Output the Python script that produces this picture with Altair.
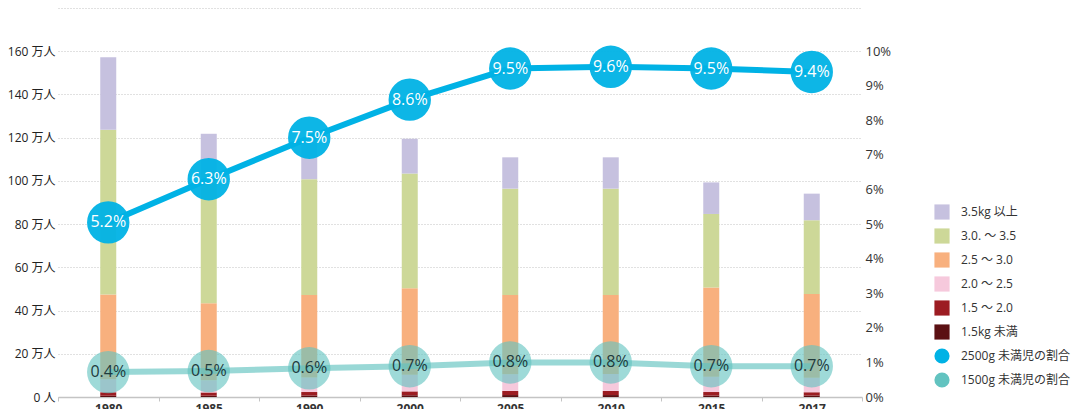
import altair as alt
import pandas as pd

# ---- data ----
years = ["1980", "1985", "1990", "2000", "2005", "2010", "2015", "2017"]

# stacked birth-weight groups, bottom -> top (万人)
cat_names = ["1.5kg 未満", "1.5 ～ 2.0", "2.0 ～ 2.5", "2.5 ～ 3.0", "3.0. ～ 3.5", "3.5kg 以上"]
under_15 = [0.6, 0.6, 0.7, 0.8, 0.9, 0.9, 0.7, 0.7]
w15_20 = [1.6, 1.5, 1.6, 1.8, 1.9, 1.9, 1.6, 1.5]
w20_25 = [6.0, 5.6, 6.7, 7.7, 7.7, 7.9, 7.1, 6.7]
w25_30 = [39.2, 35.7, 38.2, 40.0, 36.7, 36.5, 41.3, 38.8]
w30_35 = [76.3, 60.6, 53.6, 53.1, 49.2, 49.2, 34.0, 34.1]
over_35 = [33.5, 17.8, 19.2, 16.1, 14.5, 14.5, 14.6, 12.3]
cat_values = [under_15, w15_20, w20_25, w25_30, w30_35, over_35]

# rate lines (right axis, %)
line_names = ["2500g 未満児の割合", "1500g 未満児の割合"]
rate_2500 = [5.05, 6.3, 7.5, 8.6, 9.5, 9.55, 9.5, 9.4]
rate_2500_labels = ["5.2%", "6.3%", "7.5%", "8.6%", "9.5%", "9.6%", "9.5%", "9.4%"]
rate_1500 = [0.72, 0.75, 0.83, 0.89, 1.0, 1.0, 0.89, 0.89]
rate_1500_labels = ["0.4%", "0.5%", "0.6%", "0.7%", "0.8%", "0.8%", "0.7%", "0.7%"]

legend_order = cat_names[::-1] + line_names
legend_colors = ["#c6c1df", "#cdd898", "#f8b07e", "#f6c9dc", "#9c1c22", "#5b1013",
                 "#00b2e5", "#62c3c0"]
legend_shapes = ["square"] * 6 + ["circle"] * 2

# ---- tables ----
bar_rows = []
for i, (name, vals) in enumerate(zip(cat_names, cat_values)):
    for y, v in zip(years, vals):
        bar_rows.append({"year": y, "series": name, "value": v, "stackorder": i})
bar_df = pd.DataFrame(bar_rows)

line_rows = []
for name, vals, labs in [(line_names[0], rate_2500, rate_2500_labels),
                         (line_names[1], rate_1500, rate_1500_labels)]:
    for y, v, l in zip(years, vals, labs):
        line_rows.append({"year": y, "series": name, "rate": v, "label": l})
line_df = pd.DataFrame(line_rows)

FONT = "Open Sans, Noto Sans CJK JP"

leg = alt.Legend(
    title=None, orient="none", legendX=876, legendY=196,
    labelFont=FONT, labelFontSize=12, labelColor="#333333",
    symbolSize=230, symbolOpacity=1, symbolStrokeWidth=0,
    rowPadding=8, labelOffset=11,
)

color_enc = alt.Color("series:N", scale=alt.Scale(domain=legend_order, range=legend_colors), legend=leg)
shape_enc = alt.Shape("series:N", scale=alt.Scale(domain=legend_order, range=legend_shapes), legend=leg)

x_axis = alt.Axis(
    title=None, labelAngle=0, tickBand="extent", tickSize=4, tickColor="#c4c4c4",
    domainColor="#c4c4c4", domainWidth=1.5, labelFont=FONT, labelFontSize=12,
    labelFontWeight="bold", labelColor="#333333", labelPadding=2,
    grid=False,
)
x_enc = alt.X("year:N", sort=years, scale=alt.Scale(paddingInner=0, paddingOuter=0), axis=x_axis)

left_axis = alt.Axis(
    orient="left", title=None, values=list(range(0, 181, 20)),
    labelExpr="datum.value == 0 ? '0 人' : (datum.value == 180 ? '' : datum.value + ' 万人')",
    grid=True, gridDash=[1, 2], gridColor="#c2c2c2", gridWidth=1,
    domain=False, ticks=False, labelPadding=3,
    labelFont=FONT, labelFontSize=12, labelColor="#222222",
)

right_axis = alt.Axis(
    orient="right", title=None, values=list(range(0, 11)),
    labelExpr="datum.value + '%'", grid=False, domain=False, ticks=False,
    labelPadding=3, labelFont=FONT, labelFontSize=13, labelColor="#333333",
)

bars = alt.Chart(bar_df).mark_bar(size=16).encode(
    x=x_enc,
    y=alt.Y("value:Q", stack="zero", scale=alt.Scale(domain=[0, 180], nice=False), axis=left_axis),
    color=color_enc,
    order=alt.Order("stackorder:Q"),
)

y_rate = alt.Y("rate:Q", scale=alt.Scale(domain=[0, 11.25], nice=False), axis=right_axis)

base = alt.Chart(line_df)
line25 = base.transform_filter(alt.datum.series == line_names[0]).mark_line(
    color="#00b2e5", strokeWidth=6).encode(x=x_enc, y=y_rate)
line15 = base.transform_filter(alt.datum.series == line_names[1]).mark_line(
    color="#62c3c0", strokeWidth=6, opacity=0.65).encode(x=x_enc, y=y_rate)

points = base.mark_point(filled=True, size=1800, strokeWidth=0).encode(
    x=x_enc, y=y_rate, color=color_enc, shape=shape_enc,
    opacity=alt.condition(alt.datum.series == line_names[0], alt.value(0.95), alt.value(0.62)),
)

texts = base.mark_text(fontSize=16, font=FONT, baseline="middle", align="center").encode(
    x=x_enc, y=y_rate, text="label:N",
    color=alt.condition(alt.datum.series == line_names[0], alt.value("#ffffff"), alt.value("#1f3a3c")),
)

rates = alt.layer(line15, line25, points, texts)

chart = alt.layer(bars, rates).resolve_scale(y="independent").properties(
    width=804, height=389,
    autosize=alt.AutoSizeParams(type="none"),
    padding={"left": 50, "top": 0, "right": 211, "bottom": 12},
).configure(
    font=FONT,
    view=alt.ViewConfig(stroke=None),
    axisX=alt.AxisConfig(grid=False),
    axisBand=alt.AxisConfig(grid=False),
)

chart.save("out.html", embed_options={"renderer": "svg", "actions": False})
